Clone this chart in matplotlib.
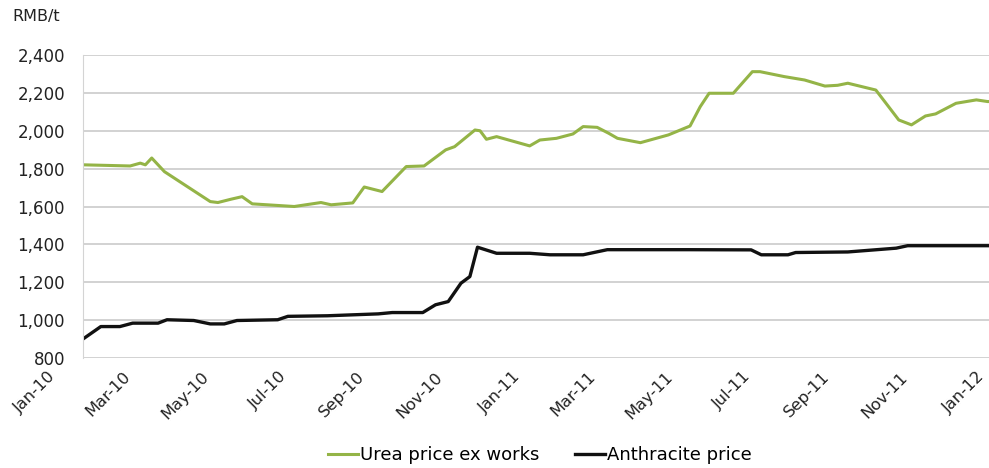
import numpy as np
import pandas as pd
import matplotlib
matplotlib.use("Agg")
from matplotlib import pyplot as plt
import matplotlib.dates as mdates
from matplotlib.transforms import ScaledTranslation

# Urea price ex works (RMB/t)
urea_dates = ["2010-01-02", "2010-02-07", "2010-02-15", "2010-02-19", "2010-02-24",
              "2010-03-06", "2010-03-16", "2010-04-11", "2010-04-17", "2010-04-27",
              "2010-05-06", "2010-05-14", "2010-06-16", "2010-07-07", "2010-07-15",
              "2010-08-01", "2010-08-10", "2010-08-24", "2010-09-12", "2010-09-26",
              "2010-10-13", "2010-10-20", "2010-11-05", "2010-11-09", "2010-11-14",
              "2010-11-22", "2010-12-18", "2010-12-26", "2011-01-08", "2011-01-21",
              "2011-01-29", "2011-02-09", "2011-02-18", "2011-02-25", "2011-03-15",
              "2011-04-06", "2011-04-23", "2011-05-01", "2011-05-08", "2011-05-27",
              "2011-06-11", "2011-06-17", "2011-07-06", "2011-07-22", "2011-08-07",
              "2011-08-17", "2011-08-25", "2011-09-16", "2011-09-24", "2011-10-04",
              "2011-10-14", "2011-10-25", "2011-11-02", "2011-11-18", "2011-12-04",
              "2011-12-13", "2011-12-31"]
urea_price = [1820, 1814, 1829, 1820, 1856,
              1784, 1740, 1626, 1621, 1638,
              1652, 1614, 1600, 1621, 1609,
              1619, 1703, 1679, 1811, 1814,
              1899, 1916, 2004, 2000, 1955,
              1969, 1920, 1951, 1960, 1983,
              2022, 2018, 1987, 1960, 1937,
              1978, 2025, 2127, 2198, 2198,
              2312, 2312, 2286, 2268, 2236,
              2240, 2251, 2215, 2145, 2057,
              2031, 2078, 2089, 2145, 2163,
              2154, 2160]

# Anthracite price (RMB/t)
coal_dates = ["2010-01-02", "2010-01-15", "2010-01-30", "2010-02-09", "2010-03-01",
              "2010-03-08", "2010-03-29", "2010-04-11", "2010-04-22", "2010-05-02",
              "2010-06-03", "2010-06-11", "2010-07-12", "2010-08-21", "2010-09-01",
              "2010-09-25", "2010-10-05", "2010-10-15", "2010-10-25", "2010-11-01",
              "2010-11-07", "2010-11-22", "2010-12-18", "2011-01-03", "2011-01-29",
              "2011-02-17", "2011-04-21", "2011-06-10", "2011-06-18", "2011-07-09",
              "2011-07-15", "2011-08-25", "2011-10-02", "2011-10-11", "2011-12-31"]
coal_price = [905, 966, 966, 984, 984,
              1002, 998, 980, 980, 998,
              1002, 1020, 1023, 1033, 1040,
              1040, 1081, 1098, 1195, 1230,
              1385, 1353, 1353, 1345, 1345,
              1372, 1372, 1371, 1345, 1345,
              1357, 1360, 1380, 1393, 1393]

y_ticks = np.arange(800, 2401, 200)

W, H = 989, 468
fig = plt.figure(figsize=(W / 100, H / 100), dpi=100)
# the plot area runs past the right edge, as in the cropped original
ax = fig.add_axes([83 / W, 110 / H, (1012 - 83) / W, (358 - 55) / H])

ax.plot(pd.to_datetime(urea_dates), urea_price, color="#94B447", lw=2.2,
        label="Urea price ex works", solid_joinstyle="round")
ax.plot(pd.to_datetime(coal_dates), coal_price, color="#111111", lw=2.4,
        label="Anthracite price", solid_joinstyle="round")

ax.set_xlim(pd.Timestamp("2010-01-01"), pd.Timestamp("2012-01-01"))
ax.set_ylim(800, 2400)
ax.set_yticks(y_ticks)
ax.yaxis.set_major_formatter(matplotlib.ticker.FuncFormatter(lambda v, p: f"{int(v):,}"))
ax.xaxis.set_major_locator(mdates.MonthLocator(bymonth=[1, 3, 5, 7, 9, 11]))
ax.xaxis.set_major_formatter(mdates.DateFormatter("%b-%y"))

ax.grid(axis="y", color="#cfcfcf", lw=1.3)
ax.set_axisbelow(True)
for s in ["top", "right", "bottom"]:
    ax.spines[s].set_visible(False)
ax.spines["left"].set_color("#d4d4d4")
ax.tick_params(length=0)
ax.tick_params(axis="y", labelsize=12, pad=13, labelcolor="#222222")
ax.tick_params(axis="x", labelsize=11.7, pad=8, labelcolor="#222222")

shift = ScaledTranslation(-0.35, 0, fig.dpi_scale_trans)
for lab in ax.get_xticklabels():
    lab.set_rotation(45)
    lab.set_ha("right")
    lab.set_va("top")
    lab.set_rotation_mode("anchor")
    lab.set_transform(lab.get_transform() + shift)

fig.text(12 / W, 1 - 17 / H, "RMB/t", fontsize=11.5, va="center", ha="left", color="#222222")

fig.legend(loc="center", bbox_to_anchor=(540 / W, 1 - 455 / H), ncol=2, frameon=False,
           fontsize=13, handlelength=1.65, handletextpad=0.15, columnspacing=1.95)

fig.savefig("out.png", dpi=100)
